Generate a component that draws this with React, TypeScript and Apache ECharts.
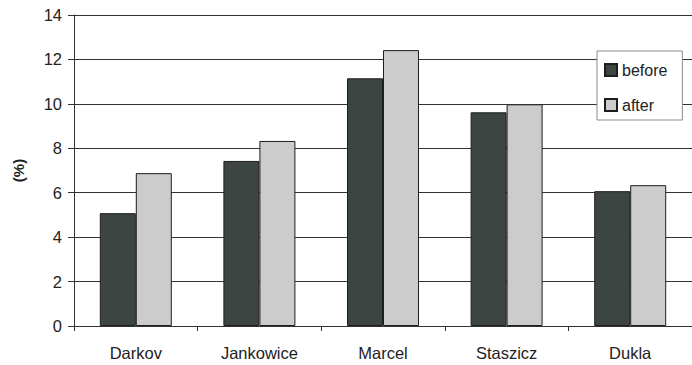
import React, { useEffect, useRef } from "react";
import * as echarts from "echarts";

const categories = ["Darkov", "Jankowice", "Marcel", "Staszicz", "Dukla"];
const beforeValues = [5.08, 7.43, 11.15, 9.62, 6.07];
const afterValues = [6.88, 8.33, 12.42, 9.98, 6.34];
const seriesNames = ["before", "after"];
const yAxisTitle = "(%)";

const FONT = "'Liberation Sans', Arial, sans-serif";

export default function App() {
  const ref = useRef<HTMLDivElement>(null);
  useEffect(() => {
    document.body.style.margin = "0";
    if (!ref.current) return;
    const chart = echarts.init(ref.current, undefined, { renderer: "svg" });
    chart.setOption({
      animation: false,
      backgroundColor: "#ffffff",
      textStyle: { fontFamily: FONT },
      grid: { left: 74, top: 15, width: 626, height: 311, containLabel: false },
      legend: {
        orient: "vertical",
        left: 597,
        top: 51,
        data: seriesNames,
        backgroundColor: "#ffffff",
        borderColor: "#8a8a8a",
        borderWidth: 1,
        padding: [11, 15, 7, 7],
        itemWidth: 12,
        itemHeight: 12,
        itemGap: 19,
        icon: "rect",
        textStyle: { fontSize: 16, color: "#222", fontFamily: FONT },
      },
      xAxis: {
        type: "category",
        data: categories,
        boundaryGap: true,
        axisLine: { show: true, lineStyle: { color: "#333", width: 1 } },
        axisTick: { show: true, length: 5, alignWithLabel: false, lineStyle: { color: "#333" } },
        axisLabel: { fontSize: 16.5, color: "#222", margin: 18, fontFamily: FONT },
        splitLine: { show: false },
      },
      yAxis: {
        type: "value",
        min: 0,
        max: 14,
        interval: 2,
        name: yAxisTitle,
        nameLocation: "middle",
        nameRotate: 90,
        nameGap: 48,
        nameTextStyle: { fontSize: 15, fontWeight: "bold", color: "#222", fontFamily: FONT },
        axisLine: { show: true, lineStyle: { color: "#333", width: 1 } },
        axisTick: { show: true, length: 6, lineStyle: { color: "#333" } },
        axisLabel: { fontSize: 16.5, color: "#222", margin: 12, fontFamily: FONT },
        splitLine: { show: true, lineStyle: { color: "#333", width: 1 } },
      },
      series: [
        {
          name: seriesNames[0],
          type: "bar",
          data: beforeValues,
          barWidth: 36,
          barGap: "0%",
          itemStyle: { color: "#3d4543", borderColor: "#1e1e1e", borderWidth: 1 },
        },
        {
          name: seriesNames[1],
          type: "bar",
          data: afterValues,
          barWidth: 36,
          barGap: "0%",
          itemStyle: { color: "#cccccc", borderColor: "#1e1e1e", borderWidth: 1 },
        },
      ],
    });
    return () => chart.dispose();
  }, []);
  return <div ref={ref} style={{ width: 692, height: 365 }} />;
}
